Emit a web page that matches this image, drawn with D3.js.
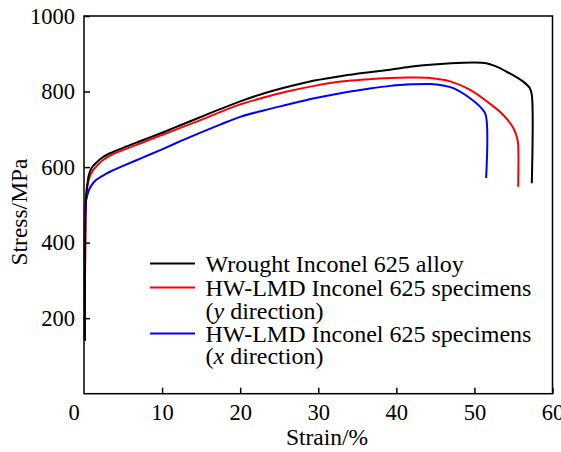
<!DOCTYPE html>
<html>
<head>
<meta charset="utf-8">
<script src="https://cdn.jsdelivr.net/npm/d3@7"></script>
<style>
  html, body { margin: 0; padding: 0; background: #fff; }
  svg { display: block; }
</style>
</head>
<body>
<svg id="chart" width="561" height="452"></svg>
<script>
// ---- data ----
const xTicks = [10, 20, 30, 40, 50, 60];
const yTicks = [200, 400, 600, 800, 1000];
const seriesNames = [
  ["Wrought Inconel 625 alloy"],
  ["HW-LMD Inconel 625 specimens", "(y direction)"],
  ["HW-LMD Inconel 625 specimens", "(x direction)"]
];
const seriesColors = ["#000000", "#ff0000", "#0000ff"];

const wroughtStrain = [0.1, 0.2, 0.3, 0.45, 0.66, 1.0, 1.5, 2.4, 3.6, 5, 7.5, 10, 12.5, 15, 17.5, 20, 23, 26, 29.5, 33.2, 36, 39.2, 42, 44.3, 47, 49.9, 51.5, 52.6, 54.1, 56.2, 57.1, 57.35, 57.35];
const wroughtStress = [140, 480, 530, 558, 582, 598, 610, 626, 639, 651, 671, 691, 712, 733, 754, 774, 795, 812, 829, 842, 850, 858, 866, 871, 875, 877, 875, 868, 853, 827, 809, 791, 557];

const yDirStrain = [0.1, 0.2, 0.3, 0.45, 0.74, 1.1, 1.73, 2.4, 3.6, 5, 7.5, 10, 12.5, 15, 17.5, 20, 23, 26, 29.5, 33.2, 36, 39.2, 41.5, 44.3, 46.9, 49.4, 51.6, 53.7, 55.0, 55.47, 55.6, 55.6];
const yDirStress = [140, 470, 525, 550, 575, 590, 605, 618, 633, 645, 665, 685, 705, 725, 746, 766, 784, 800, 815, 827, 832, 836, 837, 836, 827, 805, 774, 738, 703, 677, 659, 548];

const xDirStrain = [0.1, 0.15, 0.3, 0.66, 1.0, 1.5, 2.8, 3.64, 5, 7.5, 10, 12.5, 15, 17.5, 20, 23, 26, 29.5, 33.2, 36, 39.2, 42, 44.3, 46, 47.3, 49.4, 50.9, 51.45, 51.5];
const xDirStress = [140, 495, 515, 540, 553, 565, 582, 591, 603, 625, 647, 670, 692, 713, 733, 750, 765, 782, 797, 806, 815, 819, 820, 816, 809, 783, 756, 738, 571];

// ---- layout ----
const FONT = "'Liberation Serif', 'Times New Roman', Times, serif";
const svg = d3.select("#chart");
const margin = { left: 84, right: 8.5, top: 16, bottom: 58.3 };
const W = 561, H = 452;
const x = d3.scaleLinear().domain([0, 60]).range([margin.left, W - margin.right]);
const y = d3.scaleLinear().domain([0, 1000]).range([H - margin.bottom, margin.top]);

const tickFont = 22.5, titleFont = 23.5, legendFont = 24;

// frame
svg.append("rect")
  .attr("x", x(0)).attr("y", y(1000))
  .attr("width", x(60) - x(0)).attr("height", y(0) - y(1000))
  .attr("fill", "none").attr("stroke", "#000").attr("stroke-width", 1.5);

// x axis (ticks inward)
const xAxis = d3.axisBottom(x).tickValues(xTicks).tickSizeInner(-6).tickSizeOuter(0).tickPadding(10).tickFormat(d3.format("d"));
const gx = svg.append("g").attr("transform", `translate(0,${y(0)})`).call(xAxis);
gx.select(".domain").remove();
gx.selectAll(".tick line").attr("stroke", "#000").attr("stroke-width", 1.5);
gx.selectAll(".tick text").style("font-size", tickFont + "px").style("font-family", FONT).attr("fill", "#000");

// y axis (ticks inward)
const yAxis = d3.axisLeft(y).tickValues(yTicks).tickSizeInner(-6).tickSizeOuter(0).tickPadding(9).tickFormat(d3.format("d"));
const gy = svg.append("g").attr("transform", `translate(${x(0)},0)`).call(yAxis);
gy.select(".domain").remove();
gy.selectAll(".tick line").attr("stroke", "#000").attr("stroke-width", 1.5);
gy.selectAll(".tick text").style("font-size", tickFont + "px").style("font-family", FONT).attr("fill", "#000");

// shared origin label
svg.append("text")
  .attr("x", x(0) - 10).attr("y", 420)
  .attr("text-anchor", "middle")
  .style("font-size", tickFont + "px").style("font-family", FONT).text("0");

// axis titles
svg.append("text")
  .attr("x", 327).attr("y", 445)
  .attr("text-anchor", "middle")
  .style("font-size", titleFont + "px").style("font-family", FONT).text("Strain/%");
svg.append("text")
  .attr("transform", `translate(27,212) rotate(-90)`)
  .attr("text-anchor", "middle")
  .style("font-size", titleFont + "px").style("font-family", FONT).text("Stress/MPa");

// curves
const line = d3.line()
  .x(d => x(d[0])).y(d => y(d[1]))
  .curve(d3.curveCatmullRom.alpha(0.5));

const series = [
  d3.zip(wroughtStrain, wroughtStress),
  d3.zip(yDirStrain, yDirStress),
  d3.zip(xDirStrain, xDirStress)
];
[2, 1, 0].forEach(i => {
  svg.append("path")
    .datum(series[i])
    .attr("d", line)
    .attr("fill", "none")
    .attr("stroke", seriesColors[i])
    .attr("stroke-width", 2)
    .attr("stroke-linejoin", "round");
});

// legend
const legendBaselines = [[271.5], [295.5, 318.5], [341.5, 364]];
seriesNames.forEach((lines, i) => {
  const b0 = legendBaselines[i][0];
  svg.append("line")
    .attr("x1", 150).attr("x2", 195)
    .attr("y1", b0 - 8).attr("y2", b0 - 8)
    .attr("stroke", seriesColors[i]).attr("stroke-width", 2);
  lines.forEach((t, j) => {
    const txt = svg.append("text")
      .attr("x", 205.5).attr("y", legendBaselines[i][j])
      .style("font-size", legendFont + "px").style("font-family", FONT);
    const m = t.match(/^\((\w)( direction\))$/);
    if (m) {
      txt.append("tspan").text("(");
      txt.append("tspan").style("font-style", "italic").text(m[1]);
      txt.append("tspan").text(m[2]);
    } else {
      txt.text(t);
    }
  });
});
</script>
</body>
</html>
